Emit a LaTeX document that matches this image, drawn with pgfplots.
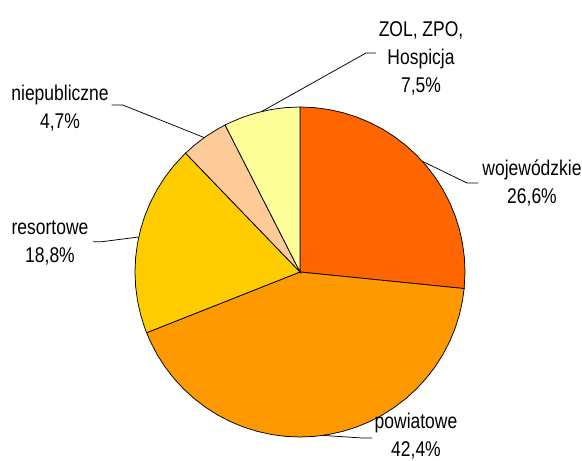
\documentclass[border=0pt]{standalone}
\usepackage{fontspec}
\setmainfont{Liberation Sans}[FakeStretch=0.82]
\usepackage{pgfplots}
\pgfplotsset{compat=1.18}
\definecolor{cWoj}{HTML}{FF6600}
\definecolor{cPow}{HTML}{FF9900}
\definecolor{cRes}{HTML}{FFCC00}
\definecolor{cNie}{HTML}{FFCC99}
\definecolor{cZol}{HTML}{FFFF99}
\tikzset{lbl/.style={font=\fontsize{21.4}{28.1}\selectfont, align=center, inner sep=0pt}}
\begin{document}
\begin{tikzpicture}
\begin{axis}[name=ax,
  width=582bp, height=461bp, scale only axis,
  xmin=-300, xmax=282, ymin=-189, ymax=272,
  hide axis, clip=false,
]
% slices: wojewodzkie 26.6%, powiatowe 42.4%, resortowe 18.8%, niepubliczne 4.7%, ZOL 7.5%
\addplot[fill=cWoj, draw=black, line width=0.75bp, data cs=polar] coordinates {
 (0,0) (90,165) (85,165) (80,165) (75,165) (70,165) (65,165) (60,165) (55,165)
 (50,165) (45,165) (40,165) (35,165) (30,165) (25,165) (20,165) (15,165) (10,165)
 (5,165) (0,165) (-5.76,165)} -- cycle;
\addplot[fill=cPow, draw=black, line width=0.75bp, data cs=polar] coordinates {
 (0,0) (-5.76,165) (-10,165) (-15,165) (-20,165) (-25,165) (-30,165) (-35,165)
 (-40,165) (-45,165) (-50,165) (-55,165) (-60,165) (-65,165) (-70,165) (-75,165)
 (-80,165) (-85,165) (-90,165) (-95,165) (-100,165) (-105,165) (-110,165) (-115,165)
 (-120,165) (-125,165) (-130,165) (-135,165) (-140,165) (-145,165) (-150,165)
 (-155,165) (-158.4,165)} -- cycle;
\addplot[fill=cRes, draw=black, line width=0.75bp, data cs=polar] coordinates {
 (0,0) (-158.4,165) (-160,165) (-165,165) (-170,165) (-175,165) (-180,165) (-185,165)
 (-190,165) (-195,165) (-200,165) (-205,165) (-210,165) (-215,165) (-220,165)
 (-225,165) (-226.08,165)} -- cycle;
\addplot[fill=cNie, draw=black, line width=0.75bp, data cs=polar] coordinates {
 (0,0) (-226.08,165) (-230,165) (-235,165) (-240,165) (-243,165)} -- cycle;
\addplot[fill=cZol, draw=black, line width=0.75bp, data cs=polar] coordinates {
 (0,0) (-243,165) (-245,165) (-250,165) (-255,165) (-260,165) (-265,165) (-270,165)} -- cycle;
% leader lines
\addplot[black, line width=0.75bp] coordinates {(-38.5,160.4) (66,219) (76,219)};
\addplot[black, line width=0.75bp] coordinates {(-95.7,134.4) (-177.3,167) (-188.4,167)};
\addplot[black, line width=0.75bp] coordinates {(-161.3,35) (-198,30.3) (-207,30.3)};
\addplot[black, line width=0.75bp] coordinates {(122.4,110.7) (167,89) (178,89)};
\addplot[black, line width=0.75bp] coordinates {(22.7,-163.4) (62,-166) (72,-166)};
% labels
\node[lbl] at (axis cs:121,214) {ZOL, ZPO,\\Hospicja\\7,5\%};
\node[lbl] at (axis cs:-240,163.5) {niepubliczne\\4,7\%};
\node[lbl] at (axis cs:-250,29) {resortowe\\18,8\%};
\node[lbl] at (axis cs:232,88.5) {wojewódzkie\\26,6\%};
\node[lbl] at (axis cs:116,-164) {powiatowe\\42,4\%};
\end{axis}
\pgfresetboundingbox
\path (ax.south west) rectangle (ax.north east);
\end{tikzpicture}
\end{document}
